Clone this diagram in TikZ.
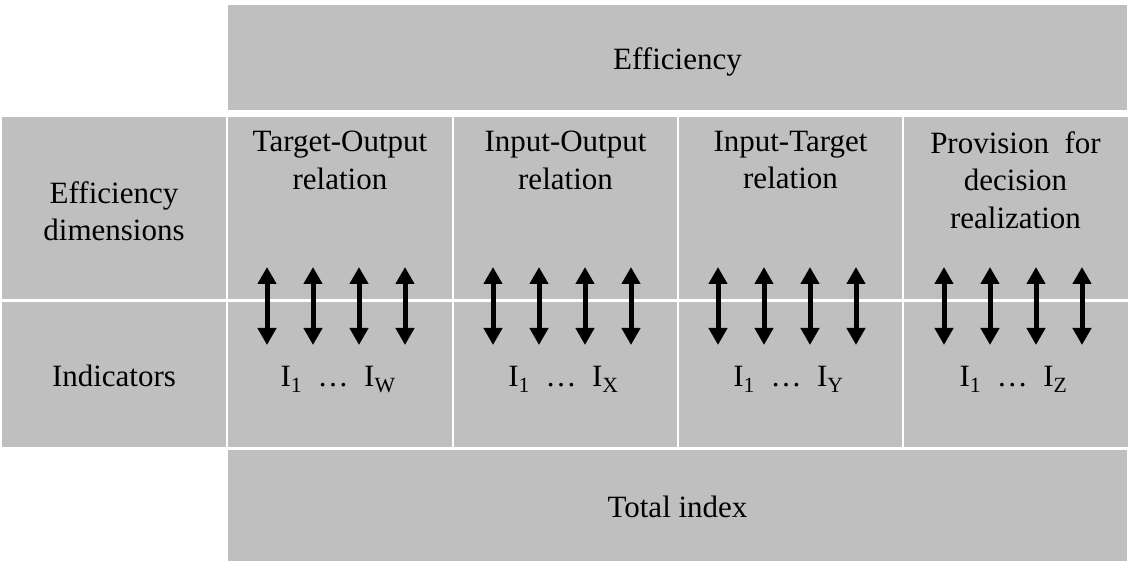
\documentclass[tikz,border=0pt]{standalone}
\usepackage{fontspec}
\setmainfont{Liberation Serif}
\usetikzlibrary{arrows.meta}
\definecolor{cellgray}{HTML}{BFBFBF}
\begin{document}
\begin{tikzpicture}[x=1pt,y=-1pt,
  cell/.style={fill=cellgray, inner sep=0pt, outer sep=0pt, anchor=north west, draw=none},
  lbl/.style={font=\fontsize{31}{37.5}\selectfont, align=center, inner sep=0pt},
  dbl/.style={{Triangle[width=18pt,length=17pt]}-{Triangle[width=18pt,length=17pt]}, line width=5pt, black}]
\useasboundingbox (0,0) rectangle (1128,561);
% cells
\node[cell, minimum width=899pt, minimum height=105pt] (top) at (228,5) {};
\node[cell, minimum width=224pt, minimum height=182pt] (lt) at (2,117) {};
\node[cell, minimum width=224pt, minimum height=145pt] (lb) at (2,302) {};
\node[cell, minimum width=224pt, minimum height=182pt] (c1t) at (228,117) {};
\node[cell, minimum width=223pt, minimum height=182pt] (c2t) at (454,117) {};
\node[cell, minimum width=223pt, minimum height=182pt] (c3t) at (679,117) {};
\node[cell, minimum width=224pt, minimum height=182pt] (c4t) at (904,117) {};
\node[cell, minimum width=224pt, minimum height=145pt] (c1b) at (228,302) {};
\node[cell, minimum width=223pt, minimum height=145pt] (c2b) at (454,302) {};
\node[cell, minimum width=223pt, minimum height=145pt] (c3b) at (679,302) {};
\node[cell, minimum width=224pt, minimum height=145pt] (c4b) at (904,302) {};
\node[cell, minimum width=899pt, minimum height=111pt] (bot) at (228,450) {};
% texts
\node[lbl, anchor=base] (ttop) at (677.5,70) {Efficiency};
\node[lbl, anchor=base] (tbot) at (677.5,517) {Total index};
\node[lbl] (tlt) at (114,211) {Efficiency\\dimensions};
\node[lbl, anchor=base] (tlb) at (114,387) {Indicators};
\node[lbl, anchor=north] (h1) at (340,131) {Target-Output\\relation};
\node[lbl, anchor=north] (h2) at (565.5,131) {Input-Output\\relation};
\node[lbl, anchor=north] (h3) at (790.5,131) {Input-Target\\relation};
\node[lbl, anchor=north] (h4) at (1015.5,131) {Provision\ \ for\\decision\\realization};
\node[lbl, anchor=base] (i1) at (338,387) {I\textsubscript{1}\ \ \ldots\ \ I\textsubscript{W}};
\node[lbl, anchor=base] (i2) at (563.5,387) {I\textsubscript{1}\ \ \ldots\ \ I\textsubscript{X}};
\node[lbl, anchor=base] (i3) at (788.5,387) {I\textsubscript{1}\ \ \ldots\ \ I\textsubscript{Y}};
\node[lbl, anchor=base] (i4) at (1013.5,387) {I\textsubscript{1}\ \ \ldots\ \ I\textsubscript{Z}};
% arrows
\foreach \c/\cx in {1/336, 2/562, 3/787, 4/1013}{
  \foreach \k/\dx in {1/-69, 2/-23, 3/23, 4/69}{
    \coordinate (a\c\k t) at (\cx+\dx,267);
    \coordinate (a\c\k b) at (\cx+\dx,345);
    \draw[dbl] (a\c\k t) -- (a\c\k b);
  }
}
\end{tikzpicture}
\end{document}
